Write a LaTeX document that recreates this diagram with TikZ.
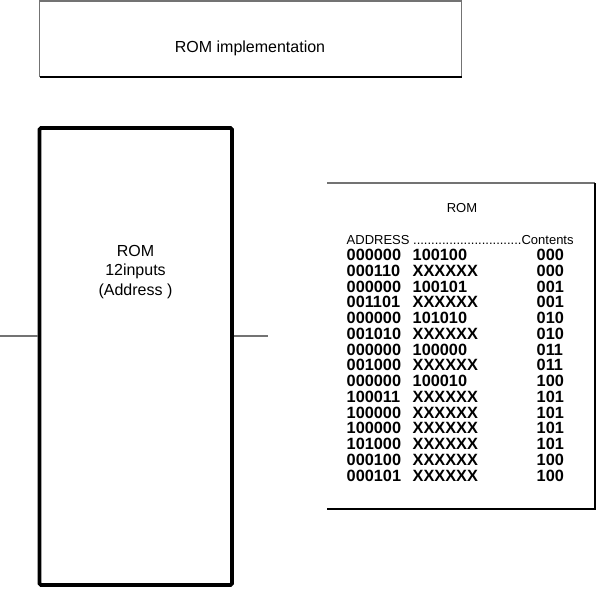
\documentclass[tikz,border=0pt]{standalone}
\usepackage{fontspec}
\setmainfont{Liberation Sans}
\usetikzlibrary{positioning}

\tikzset{
  plain/.style={font=\fontsize{16}{19.4}\selectfont, align=center, inner sep=0pt},
  headtxt/.style={font=\fontsize{13}{15}\selectfont, inner sep=0pt},
  rowtxt/.style={font=\fontsize{16.3}{16}\selectfont\bfseries, inner sep=0pt, anchor=west},
  lightedge/.style={draw=black!55, line width=1.6pt},
  darkedge/.style={draw=black, line width=1.3pt},
  wire/.style={draw=black!55, line width=1.4pt},
  rombox/.style={draw, line width=3.6pt, rounded corners=1.5pt}
}

\begin{document}
\begin{tikzpicture}[x=1pt,y=-1pt]
    \useasboundingbox (0,0) rectangle (597,589);

    % Title frame
    \coordinate (t1) at (39.5,1);
    \coordinate (t2) at (461.5,1);
    \coordinate (t3) at (461.5,77);
    \coordinate (t4) at (39.5,77);
    \draw[lightedge] (t4) -- (t1) -- (t2) -- (t3);
    \draw[darkedge] (t3) -- (t4);
    \node[plain] (title) at (250,48) {ROM implementation};

    % The ROM block and its wires
    \node[rombox, minimum width=192.5pt, minimum height=457pt] (rom) at (135.75,356.5) {};
    \node[plain] (romlabel) at (135.5,272) {ROM\\12inputs\\(Address )};
    \coordinate (inA) at (0,336);
    \coordinate (outA) at (268,336);
    \draw[wire] (inA) -- (inA -| rom.west);
    \draw[wire] (rom.east |- outA) -- (outA);

    % Table frame (open on the left)
    \coordinate (b1) at (327,183);
    \coordinate (b2) at (595,183);
    \coordinate (b3) at (595,509);
    \coordinate (b4) at (327,509);
    \draw[lightedge] (b1) -- (b2);
    \draw[darkedge] (b2) -- (b3) -- (b4);

    % Table heading
    \node[headtxt] (tabname) at (462,208) {ROM};
    \node[headtxt, anchor=west] (tabhead) at (346.5,240)
        {ADDRESS ..............................Contents};

    % Table rows
    \foreach \adr/\mid/\cnt [count=\i] in {
        000000/100100/000, 000110/XXXXXX/000, 000000/100101/001,
        001101/XXXXXX/001, 000000/101010/010, 001010/XXXXXX/010,
        000000/100000/011, 001000/XXXXXX/011, 000000/100010/100,
        100011/XXXXXX/101, 100000/XXXXXX/101, 100000/XXXXXX/101,
        101000/XXXXXX/101, 000100/XXXXXX/100, 000101/XXXXXX/100} {
        \node[rowtxt] (adr\i) at (346.5,{255+15.75*(\i-1)}) {\adr};
        \node[rowtxt] (mid\i) at (412.5,{255+15.75*(\i-1)}) {\mid};
        \node[rowtxt] (cnt\i) at (536.5,{255+15.75*(\i-1)}) {\cnt};
    }
\end{tikzpicture}
\end{document}
